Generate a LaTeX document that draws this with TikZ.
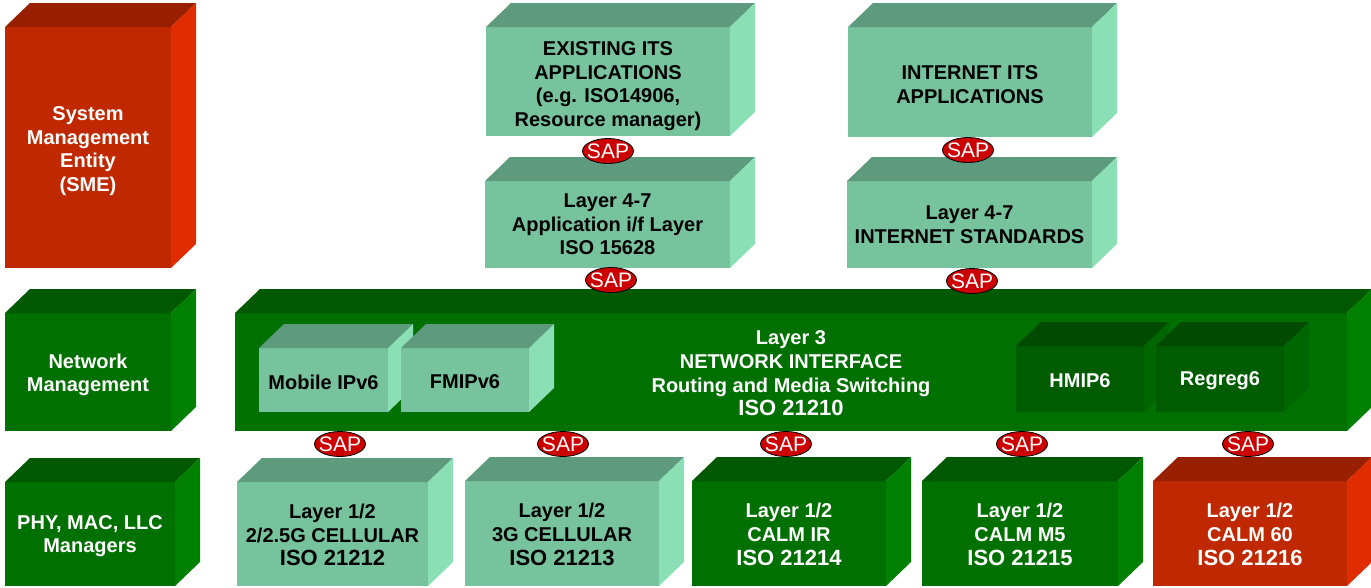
\documentclass[tikz,border=0pt]{standalone}
\usepackage{fontspec}
\setmainfont{Liberation Sans}
\usetikzlibrary{shapes.geometric}
\definecolor{lgF}{HTML}{77C39E}
\definecolor{lgT}{HTML}{5E9A7E}
\definecolor{lgS}{HTML}{8BDFB5}
\definecolor{dgF}{HTML}{007000}
\definecolor{dgT}{HTML}{005800}
\definecolor{dgS}{HTML}{008000}
\definecolor{rdF}{HTML}{C02800}
\definecolor{rdT}{HTML}{982000}
\definecolor{rdS}{HTML}{E02C00}
\definecolor{inF}{HTML}{005C00}
\definecolor{inT}{HTML}{004B00}
\definecolor{inS}{HTML}{006600}
\definecolor{sapred}{HTML}{CC0000}
\tikzset{
  front/.style={inner sep=0pt, outer sep=0pt},
  boxtext/.style={inner sep=0pt, align=center,
    font=\bfseries\fontsize{20}{23.7}\selectfont},
  darktext/.style={boxtext, text=white},
  lighttext/.style={boxtext, text=black},
  sap/.style={ellipse, draw=black, line width=0.8pt, fill=sapred, text=white,
    minimum width=51, minimum height=25, inner xsep=-8pt, inner ysep=-4pt,
    font=\mdseries\fontsize{21}{22}\selectfont}
}
\newcommand\isotext[1]{{\fontsize{22}{24}\selectfont #1}}
% #1 name, #2 x1, #3 y1, #4 x2, #5 y2, #6 colour prefix, #7 text style, #8 text
\newcommand\cubebox[8]{%
  \node[front, fill=#6F, minimum width={#4-#2}, minimum height={#5-#3},
        anchor=north west] (#1) at (#2,#3) {};
  \fill[#6T] (#1.north west) -- ++(25,-24) -- ([shift={(25,-24)}]#1.north east)
        -- (#1.north east) -- cycle;
  \fill[#6S] (#1.north east) -- ++(25,-24) -- ([shift={(25,-24)}]#1.south east)
        -- (#1.south east) -- cycle;
  \node[#7] (#1text) at (#1.center) {#8};
}
\begin{document}
\begin{tikzpicture}[x=1pt, y=-1pt]
\useasboundingbox (0,0) rectangle (1371,587);
% left column
\cubebox{sme}{5}{27}{171}{268}{rd}{darktext, yshift=-3.5pt}{System\\Management\\Entity\\(SME)}
\cubebox{netm}{5}{313}{171}{431}{dg}{darktext, yshift=-3pt}{Network\\Management}
\cubebox{phy}{5}{482}{175}{586}{dg}{darktext, yshift=-2pt}{PHY, MAC, LLC\\Managers}
% upper layers
\cubebox{exist}{486}{27}{730}{136}{lg}{lighttext, yshift=-4.5pt}{EXISTING ITS\\APPLICATIONS\\(e.g. ISO14906,\\Resource manager)}
\cubebox{appl}{485}{181}{730}{268}{lg}{lighttext}{Layer 4-7\\Application i/f Layer\\ISO 15628}
\cubebox{inet}{848}{27}{1092}{137}{lg}{lighttext, yshift=-2.5pt}{INTERNET ITS\\APPLICATIONS}
\cubebox{istd}{847}{181}{1092}{268}{lg}{lighttext}{Layer 4-7\\INTERNET STANDARDS}
% layer 3
\cubebox{lthree}{235}{313}{1347}{431}{dg}{darktext, yshift=-1.5pt}{Layer 3\\NETWORK INTERFACE\\Routing and Media Switching\\\isotext{ISO 21210}}
\cubebox{mip}{259}{348}{388}{412}{lg}{lighttext, yshift=-2pt}{Mobile IPv6}
\cubebox{fmip}{401}{348}{529}{412}{lg}{lighttext, yshift=-2pt}{FMIPv6}
\cubebox{hmip}{1016}{346}{1144}{412}{in}{darktext, yshift=-2pt}{HMIP6}
\cubebox{regreg}{1156}{346}{1284}{412}{in}{darktext, yshift=-2pt}{Regreg6}
% layer 1/2
\cubebox{cella}{237}{482}{428}{586}{lg}{lighttext, yshift=-1pt}{Layer 1/2\\2/2.5G CELLULAR\\\isotext{ISO 21212}}
\cubebox{cellb}{465}{481}{659}{586}{lg}{lighttext, yshift=-1pt}{Layer 1/2\\3G CELLULAR\\\isotext{ISO 21213}}
\cubebox{calmir}{692}{481}{886}{586}{dg}{darktext, yshift=-1pt}{Layer 1/2\\CALM IR\\\isotext{ISO 21214}}
\cubebox{calmm}{922}{481}{1118}{586}{dg}{darktext, yshift=-1pt}{Layer 1/2\\CALM M5\\\isotext{ISO 21215}}
\cubebox{calms}{1153}{481}{1347}{586}{rd}{darktext, yshift=-1pt}{Layer 1/2\\CALM 60\\\isotext{ISO 21216}}
% SAPs
\node[sap] (sapa) at (608,151) {SAP};
\node[sap] (sapb) at (611,280) {SAP};
\node[sap] (sapc) at (968,150) {SAP};
\node[sap] (sapd) at (972,281) {SAP};
\node[sap] (sape) at (340,444) {SAP};
\node[sap] (sapf) at (563,444) {SAP};
\node[sap] (sapg) at (786,444) {SAP};
\node[sap] (saph) at (1022,444) {SAP};
\node[sap] (sapi) at (1248,444) {SAP};
\end{tikzpicture}
\end{document}
